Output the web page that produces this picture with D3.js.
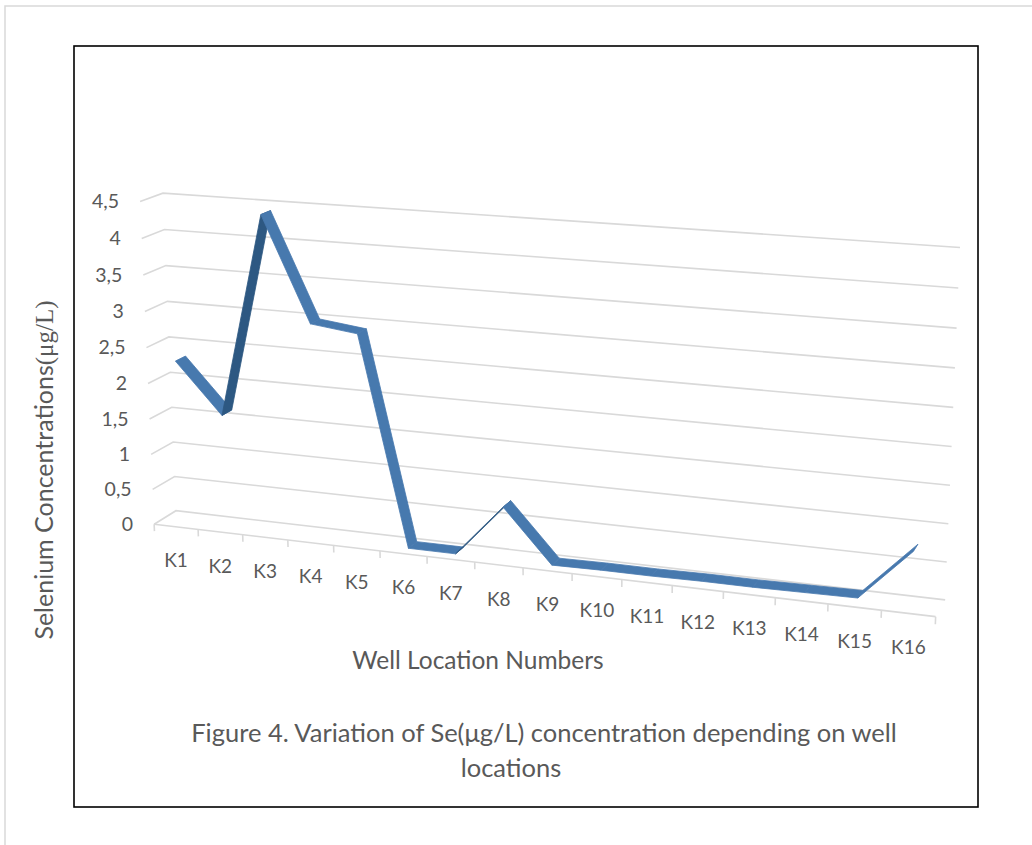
<!DOCTYPE html>
<html>
<head>
<meta charset="utf-8">
<script src="https://cdn.jsdelivr.net/npm/d3@7"></script>
<style>
  body { margin: 0; background: #fff; }
  svg { display: block; }
  text { fill: #595959; font-family: Lato, "Open Sans", sans-serif; }
</style>
</head>
<body>
<svg id="chart" width="1032" height="845"></svg>
<script>
// Well locations and selenium concentrations (µg/L)
const categories = ["K1","K2","K3","K4","K5","K6","K7","K8","K9","K10","K11","K12","K13","K14","K15","K16"];
const seValues   = [2.3, 1.6, 4.4, 2.98, 2.9, 0.02, 0.02, 0.74, 0.02, 0.03, 0.03, 0.04, 0.04, 0.05, 0.06, 0.75];
const yTicks      = [0, 0.5, 1, 1.5, 2, 2.5, 3, 3.5, 4, 4.5];
const yTickLabels = ["0", "0,5", "1", "1,5", "2", "2,5", "3", "3,5", "4", "4,5"];

const svg = d3.select("#chart");

// ---- 3D box: x = category axis, y = value axis, z = depth (0 front, 1 back) ----
// Screen positions of the plot box corners used to fit the perspective camera.
const boxCorners = [
  [[0, 1, 1], [163, 193]],
  [[0, 0, 1], [176, 512]],
  [[1, 1, 1], [960, 247]],
  [[1, 0, 1], [945, 599]],
  [[0, 1, 0], [140, 202]],
  [[0, 0, 0], [154, 523]],
  [[1, 0, 0], [935, 618]],
  [[0.25, 0, 0], [333, 544.8]],
  [[0.5, 0, 0], [524, 567.5]],
  [[0.75, 0, 0], [724, 592]]
];

// Least-squares fit of a 3x4 projective camera matrix (DLT)
function fitCamera(pts) {
  const rows = [], rhs = [];
  pts.forEach(([[X, Y, Z], [u, v]]) => {
    rows.push([X, Y, Z, 1, 0, 0, 0, 0, -u * X, -u * Y, -u * Z]); rhs.push(u);
    rows.push([0, 0, 0, 0, X, Y, Z, 1, -v * X, -v * Y, -v * Z]); rhs.push(v);
  });
  const n = 11;
  const M = Array.from({length: n}, () => new Array(n + 1).fill(0));
  rows.forEach((r, k) => {
    for (let i = 0; i < n; i++) {
      for (let j = 0; j < n; j++) M[i][j] += r[i] * r[j];
      M[i][n] += r[i] * rhs[k];
    }
  });
  for (let c = 0; c < n; c++) {
    let p = c;
    for (let r = c + 1; r < n; r++) if (Math.abs(M[r][c]) > Math.abs(M[p][c])) p = r;
    [M[c], M[p]] = [M[p], M[c]];
    for (let r = 0; r < n; r++) {
      if (r === c) continue;
      const f = M[r][c] / M[c][c];
      for (let j = c; j <= n; j++) M[r][j] -= f * M[c][j];
    }
  }
  return M.map((row, i) => row[n] / row[i]);
}
const P = fitCamera(boxCorners);
function project(x, y, z) {
  const w = P[8] * x + P[9] * y + P[10] * z + 1;
  return [(P[0] * x + P[1] * y + P[2] * z + P[3]) / w,
          (P[4] * x + P[5] * y + P[6] * z + P[7]) / w];
}

// Scales into the normalised box
const xScale = d3.scaleBand().domain(categories).range([0, 1]);
const yScale = d3.scaleLinear().domain([0, 4.5]).range([0, 1]);
const xCenter = c => xScale(c) + xScale.bandwidth() / 2;

const gridColor = "#d9d9d9";
const line = d3.line();

// ---- outer page frame ----
svg.append("path").attr("d", "M5,845 L5,6 L1032,6")
  .attr("fill", "none").attr("stroke", "#d9d9d9").attr("stroke-width", 1.5);
svg.append("rect").attr("x", 74).attr("y", 46).attr("width", 904).attr("height", 761)
  .attr("fill", "none").attr("stroke", "#000").attr("stroke-width", 1.6);

// ---- gridlines on side wall and back wall ----
const grid = svg.append("g").attr("fill", "none").attr("stroke", gridColor).attr("stroke-width", 1.6);
yTicks.forEach(t => {
  const y = yScale(t);
  grid.append("path").attr("d", line([project(0, y, 0), project(0, y, 1), project(1, y, 1)]));
});

// ---- floor front edge with tick marks ----
grid.append("path").attr("d", line([project(0, 0, 0), project(1, 0, 0)]));
d3.range(categories.length + 1).forEach(k => {
  const x = k / categories.length;
  grid.append("path").attr("d", line([project(x, 0, 0), project(x, yScale(-0.1), 0)]));
});

// ---- y tick labels ----
yTicks.forEach((t, i) => {
  const [px, py] = project(0, yScale(t), 0);
  svg.append("text").attr("x", px - 21).attr("y", py)
    .attr("dy", "0.35em").attr("text-anchor", "end")
    .attr("font-size", 19.5).text(yTickLabels[i]);
});

// ---- category labels ----
categories.forEach(c => {
  const [px, py] = project(xCenter(c), 0, 0);
  svg.append("text").attr("x", px).attr("y", py + 34)
    .attr("dy", "0.35em").attr("text-anchor", "middle")
    .attr("font-size", 19).text(c);
});

// ---- 3D ribbon for the series ----
const z0 = 0.27, z1 = 0.73;
const ribbon = svg.append("g");
for (let i = 0; i < categories.length - 1; i++) {
  const xa = xCenter(categories[i]), xb = xCenter(categories[i + 1]);
  const ya = yScale(seValues[i]), yb = yScale(seValues[i + 1]);
  const quad = [project(xa, ya, z0), project(xb, yb, z0), project(xb, yb, z1), project(xa, ya, z1)];
  const area = d3.polygonArea(quad);
  const fill = area < 0 ? "#2d5882" : "#4779ae";
  ribbon.append("path").attr("d", line(quad) + "Z")
    .attr("fill", fill).attr("stroke", fill).attr("stroke-width", 0.8)
    .attr("stroke-linejoin", "round");
}

// ---- axis titles and caption ----
svg.append("text").attr("transform", "translate(44,470) rotate(-90)")
  .attr("text-anchor", "middle").attr("dy", "0.35em").attr("font-size", 25)
  .call(t => {
    t.append("tspan").text("Selenium Concentrations");
    t.append("tspan").attr("font-family", "'Liberation Serif', serif").text("(μg/L)");
  });
svg.append("text").attr("x", 478).attr("y", 660).attr("dy", "0.35em")
  .attr("text-anchor", "middle").attr("font-size", 24.5).text("Well Location Numbers");
svg.append("text").attr("x", 544).attr("y", 733).attr("dy", "0.35em")
  .attr("text-anchor", "middle").attr("font-size", 25.5)
  .text("Figure 4. Variation of Se(μg/L) concentration depending on well");
svg.append("text").attr("x", 511).attr("y", 768).attr("dy", "0.35em")
  .attr("text-anchor", "middle").attr("font-size", 25.5).text("locations");
</script>
</body>
</html>
